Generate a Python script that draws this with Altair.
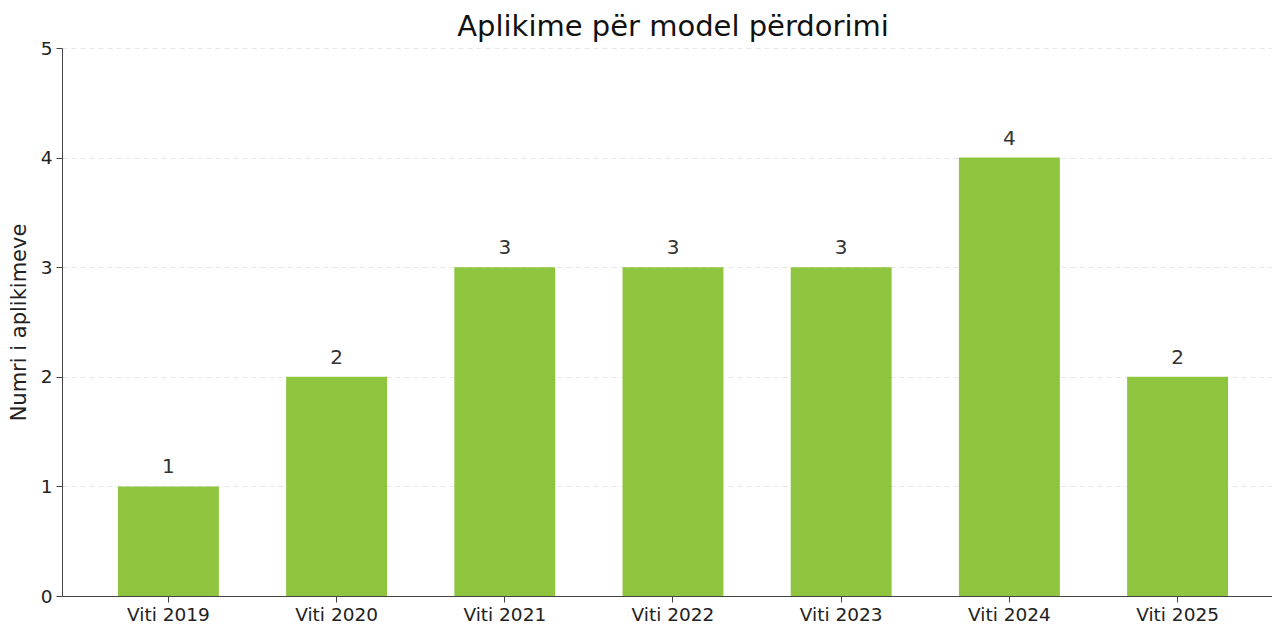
import altair as alt
import pandas as pd

title_text = ["Aplikime për model përdorimi"]
categories = ["Viti 2019", "Viti 2020", "Viti 2021", "Viti 2022", "Viti 2023", "Viti 2024", "Viti 2025"]
values = [1, 2, 3, 3, 3, 4, 2]

df = pd.DataFrame({"cat": categories, "val": values})
tdf = pd.DataFrame({"t": title_text})
FONT = "DejaVu Sans"

base = alt.Chart(df).encode(
    x=alt.X("cat:N", sort=categories, title=None,
            scale=alt.Scale(paddingInner=0.4, paddingOuter=0.297, align=0.56),
            axis=alt.Axis(labelAngle=0, labelFontSize=18.5, labelColor="#222222",
                          labelFont=FONT, domainColor="#444444", tickColor="#444444",
                          tickSize=6, labelPadding=3, grid=False)),
    y=alt.Y("val:Q", title="Numri i aplikimeve",
            scale=alt.Scale(domain=[0, 5], nice=False),
            axis=alt.Axis(values=[0, 1, 2, 3, 4, 5], format="d", labelFontSize=18.5,
                          labelColor="#222222", labelFont=FONT, titleFont=FONT,
                          titleFontSize=21, titleFontWeight="normal", titleColor="#222222",
                          titlePadding=11, domainColor="#444444", tickColor="#444444",
                          tickSize=6, labelPadding=4, grid=True, gridColor="#e6e6e6",
                          gridDash=[5, 4], gridWidth=1)),
)

bars = base.mark_bar(color="#8fc43f")
labels = base.mark_text(baseline="alphabetic", dy=-13, fontSize=20, color="#333333", font=FONT).encode(
    text=alt.Text("val:Q")
)
title = alt.Chart(tdf).mark_text(baseline="alphabetic", align="center", fontSize=29,
                                 font=FONT, color="#111111").encode(
    x=alt.value(611), y=alt.value(-12), text="t:N"
)

chart = (bars + labels + title).properties(
    width=1210, height=548,
    autosize=alt.AutoSizeParams(type="none"),
    padding={"left": 54, "top": 40, "right": 0, "bottom": 29},
).configure_view(stroke=None)

chart.save("out.html", embed_options={"renderer": "svg", "actions": False})
